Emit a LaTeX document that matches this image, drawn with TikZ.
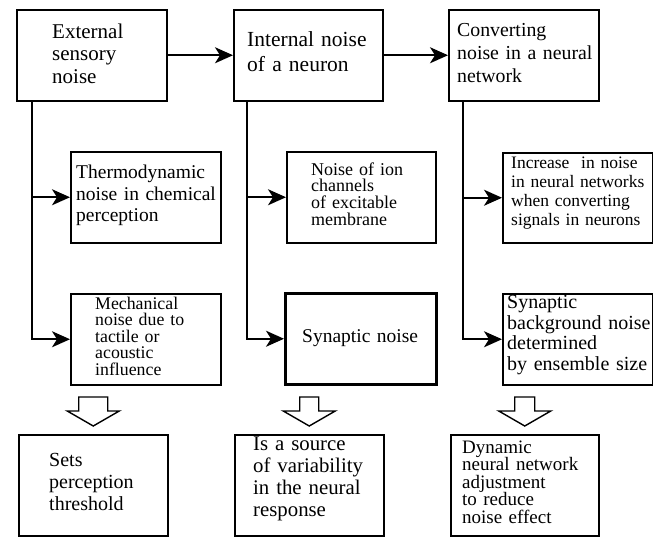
\documentclass[tikz,border=0pt]{standalone}
\usepackage{fontspec}
\setmainfont{Liberation Serif}
\usetikzlibrary{arrows.meta}
\newcommand\setfs[2]{\fontsize{#1}{#2}\selectfont\lineskiplimit=-100pt\relax}
\newcommand\blkarrow[2]{%
  \draw[hollow] ([shift={(-#2,-37)}]#1.north) -- ([shift={(#2,-37)}]#1.north)
    -- ([shift={(#2,-23)}]#1.north) -- ([shift={(26,-23)}]#1.north)
    -- ([shift={(0,-8)}]#1.north) -- ([shift={(-26,-23)}]#1.north)
    -- ([shift={(-#2,-23)}]#1.north) -- cycle;}
\begin{document}
\begin{tikzpicture}[x=1pt,y=-1pt,
  box/.style={draw, line width=1.5pt, inner sep=0pt, anchor=north west},
  txt/.style={anchor=base west, inner sep=0pt, text width=#1, align=left},
  link/.style={line width=1.6pt, -{Stealth[length=18pt,width=16pt,inset=5pt]}},
  hollow/.style={draw, line width=1.4pt, fill=white, line join=miter}]
\useasboundingbox (0,0) rectangle (653,538);
% boxes
\node[box, minimum width=150pt, minimum height=91pt] (A) at (16,9) {};
\node[box, minimum width=149pt, minimum height=91pt] (B) at (233,9) {};
\node[box, minimum width=150pt, minimum height=91pt] (C) at (448,9) {};
\node[box, minimum width=150pt, minimum height=91pt] (D) at (70,151) {};
\node[box, minimum width=149pt, minimum height=91pt] (E) at (286,151) {};
\node[box, minimum width=149.5pt, minimum height=90pt] (F) at (502,152) {};
\node[box, minimum width=150pt, minimum height=91pt] (G) at (70,293) {};
\node[box, line width=2.5pt, minimum width=151pt, minimum height=91pt] (H) at (284,292) {};
\node[box, minimum width=149.5pt, minimum height=91pt] (I) at (502,293) {};
\node[box, minimum width=149pt, minimum height=101pt] (J) at (18,434) {};
\node[box, minimum width=149pt, minimum height=101pt] (K) at (234,434) {};
\node[box, minimum width=148pt, minimum height=101pt] (L) at (450,434) {};
% texts
\node[txt=110pt, font=\setfs{21}{22.5}] (tA) at (52,38) {External\\sensory\\noise};
\node[txt=132pt, font=\setfs{21.5}{25}] (tB) at (247,46.7) {Internal noise\\of a neuron};
\node[txt=138pt, font=\setfs{19.8}{23}] (tC) at (457,36.7) {Converting\\noise in a neural\\network};
\node[txt=142pt, font=\setfs{19.5}{21.7}] (tD) at (76,178.3) {Thermodynamic\\noise in chemical\\perception};
\node[txt=120pt, font=\setfs{18}{16.8}] (tE) at (311,175) {Noise of ion\\channels\\of excitable\\membrane};
\node[txt=140pt, font=\setfs{17.5}{19}] (tF) at (511,168.3) {Increase\ \ in noise\\in neural networks\\when converting\\signals in neurons};
\node[txt=120pt, font=\setfs{17.8}{16.5}] (tG) at (95,309) {Mechanical\\noise due to\\tactile or\\acoustic\\influence};
\node[txt=130pt, font=\setfs{19.5}{22}] (tH) at (302,342) {Synaptic noise};
\node[txt=145pt, font=\setfs{20}{20.7}] (tI) at (507,308.3) {Synaptic\\background noise\\determined\\by ensemble size};
\node[txt=115pt, font=\setfs{20}{21.7}] (tJ) at (49,466.7) {Sets\\perception\\threshold};
\node[txt=128pt, font=\setfs{20.8}{22}] (tK) at (253,450) {Is a source\\of variability\\in the neural\\response};
\node[txt=132pt, font=\setfs{19}{17.5}] (tL) at (462,453) {Dynamic\\neural network\\adjustment\\to reduce\\noise effect};
% connectors
\draw[link] (A) -- (B);
\draw[link] (B) -- (C);
\draw[link] ([xshift=16pt]A.south west) |- (G.west);
\draw[link] ([xshift=16pt]A.south west) |- (D.west);
\draw[link] ([xshift=14pt]B.south west) |- (H.west);
\draw[link] ([xshift=14pt]B.south west) |- (E.west);
\draw[link] ([xshift=15pt]C.south west) |- (I.west);
\draw[link] ([xshift=15pt]C.south west) |- (F.west);
% block arrows
\blkarrow{J}{14.5}
\blkarrow{K}{9.5}
\blkarrow{L}{10}
\end{tikzpicture}
\end{document}
